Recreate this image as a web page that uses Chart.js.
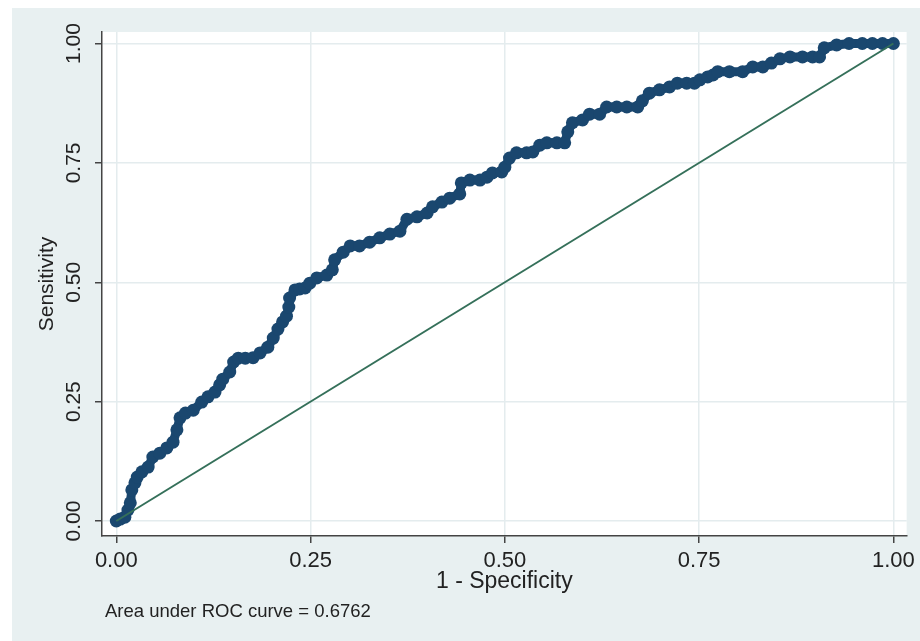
<!DOCTYPE html>
<html>
<head>
<meta charset="utf-8">
<script src="https://cdn.jsdelivr.net/npm/chart.js@4"></script>
<style>
  html, body { margin: 0; padding: 0; background: #ffffff; }
  canvas { display: block; }
</style>
</head>
<body>
<canvas id="rocChart" width="920" height="641"></canvas>
<script>
// ROC curve (1 - specificity, sensitivity)
const rocX = [0.000,0.005,0.011,0.015,0.018,0.020,0.024,0.027,0.033,0.041,
  0.047,0.056,0.065,0.073,0.078,0.082,0.089,0.099,0.110,0.118,
  0.127,0.133,0.137,0.146,0.151,0.157,0.166,0.176,0.185,0.195,
  0.202,0.208,0.214,0.219,0.222,0.223,0.230,0.236,0.243,0.249,
  0.258,0.271,0.278,0.281,0.292,0.301,0.313,0.326,0.339,0.352,
  0.365,0.374,0.387,0.400,0.407,0.419,0.429,0.442,0.444,0.455,
  0.468,0.477,0.484,0.496,0.500,0.506,0.515,0.528,0.536,0.545,
  0.554,0.567,0.577,0.581,0.587,0.600,0.609,0.622,0.631,0.644,
  0.657,0.671,0.677,0.686,0.699,0.712,0.722,0.734,0.744,0.751,
  0.761,0.768,0.774,0.789,0.806,0.819,0.832,0.843,0.854,0.867,
  0.883,0.896,0.905,0.911,0.927,0.943,0.960,0.973,0.986,1.000];
const rocY = [0.000,0.004,0.008,0.023,0.038,0.065,0.080,0.092,0.103,0.113,
  0.134,0.142,0.153,0.165,0.191,0.216,0.226,0.232,0.249,0.260,
  0.270,0.285,0.297,0.312,0.333,0.341,0.341,0.342,0.352,0.364,
  0.383,0.402,0.417,0.429,0.448,0.467,0.484,0.486,0.488,0.498,
  0.509,0.515,0.526,0.547,0.563,0.576,0.576,0.584,0.593,0.601,
  0.607,0.632,0.637,0.645,0.658,0.668,0.676,0.685,0.708,0.714,
  0.714,0.720,0.729,0.731,0.741,0.760,0.771,0.771,0.773,0.787,
  0.792,0.792,0.792,0.815,0.834,0.840,0.852,0.852,0.867,0.867,
  0.867,0.867,0.880,0.896,0.903,0.909,0.917,0.917,0.917,0.924,
  0.930,0.934,0.941,0.941,0.941,0.951,0.951,0.959,0.968,0.972,
  0.972,0.972,0.972,0.991,0.997,1.000,1.000,1.000,1.000,1.000];

// reference diagonal
const refX = [0, 1];
const refY = [0, 1];

const tickValues = [0, 0.25, 0.5, 0.75, 1];
const tickLabels = ['0.00', '0.25', '0.50', '0.75', '1.00'];
const xTitle = '1 - Specificity';
const yTitle = 'Sensitivity';
const aucNote = 'Area under ROC curve = 0.6762';

const FONT = '"Liberation Sans", Arial, sans-serif';
const navy = '#1a476f';
const green = '#35705a';
const regionBg = '#e8f0f1';
const gridCol = '#e4ecee';

const toPoints = (xs, ys) => xs.map((x, i) => ({ x: x, y: ys[i] }));
const fixedTicks = scale => {
  scale.ticks = tickValues.map(v => ({ value: v }));
};

// graph region background + white plot region
const backdrop = {
  id: 'backdrop',
  beforeDraw(chart) {
    const c = chart.ctx;
    const a = chart.chartArea;
    c.save();
    c.fillStyle = '#ffffff';
    c.fillRect(0, 0, chart.width, chart.height);
    c.fillStyle = regionBg;
    c.fillRect(12, 8, chart.width - 12, chart.height - 8);
    c.fillStyle = '#ffffff';
    c.fillRect(a.left, a.top, a.right - a.left, a.bottom - a.top);
    c.restore();
  }
};

const note = {
  id: 'note',
  afterDraw(chart) {
    const c = chart.ctx;
    c.save();
    c.font = '18.5px ' + FONT;
    c.fillStyle = '#222';
    c.textAlign = 'left';
    c.textBaseline = 'alphabetic';
    c.fillText(aucNote, 105, 617);
    c.restore();
  }
};

new Chart(document.getElementById('rocChart'), {
  type: 'scatter',
  data: {
    datasets: [
      {
        label: 'Reference',
        data: toPoints(refX, refY),
        showLine: true,
        borderColor: green,
        borderWidth: 2,
        pointRadius: 0,
        order: 0
      },
      {
        label: 'ROC',
        data: toPoints(rocX, rocY),
        showLine: true,
        borderColor: navy,
        borderWidth: 9,
        backgroundColor: navy,
        pointBackgroundColor: navy,
        pointBorderWidth: 0,
        pointRadius: 6.5,
        order: 1
      }
    ]
  },
  options: {
    responsive: false,
    animation: false,
    layout: { padding: { left: 12, top: 32, right: 13, bottom: 0 } },
    plugins: {
      legend: { display: false },
      tooltip: { enabled: false }
    },
    scales: {
      x: {
        type: 'linear',
        min: -0.0184,
        max: 1.0171,
        afterBuildTicks: fixedTicks,
        afterFit: s => { s.height = 105; },
        grid: { color: gridCol, tickColor: '#444', tickLength: 7, lineWidth: 1.5 },
        border: { color: '#444', width: 1.5 },
        ticks: {
          padding: 5,
          color: '#222',
          font: { family: FONT, size: 22 },
          maxRotation: 0,
          callback: v => tickLabels[tickValues.indexOf(v)]
        },
        title: {
          display: true,
          text: xTitle,
          color: '#222',
          font: { family: FONT, size: 23 },
          padding: { top: 0, bottom: 46 }
        }
      },
      y: {
        type: 'linear',
        min: -0.0314,
        max: 1.0241,
        afterBuildTicks: fixedTicks,
        afterFit: s => { s.width = 90; },
        grid: { color: gridCol, tickColor: '#444', tickLength: 7, lineWidth: 1.5 },
        border: { color: '#444', width: 1.5 },
        ticks: {
          padding: 0,
          color: '#222',
          font: { family: FONT, size: 21 },
          minRotation: 90,
          maxRotation: 90,
          crossAlign: 'center',
          callback: v => tickLabels[tickValues.indexOf(v)]
        },
        title: {
          display: true,
          text: yTitle,
          color: '#222',
          font: { family: FONT, size: 21 },
          padding: { top: 23, bottom: 0 }
        }
      }
    }
  },
  plugins: [backdrop, note]
});
</script>
</body>
</html>
